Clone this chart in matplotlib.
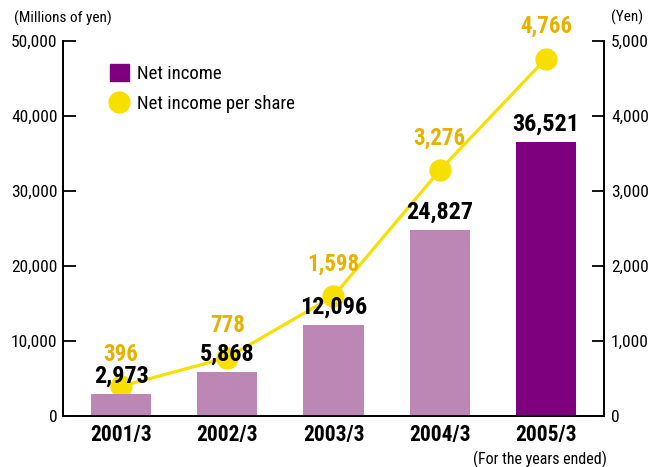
import matplotlib
matplotlib.use("Agg")
import matplotlib.pyplot as plt
from matplotlib.patches import Patch
from matplotlib.lines import Line2D

years = ["2001/3", "2002/3", "2003/3", "2004/3", "2005/3"]
net_income = [2973, 5868, 12096, 24827, 36521]
per_share = [396, 778, 1598, 3276, 4766]
left_ticks = [0, 10000, 20000, 30000, 40000, 50000]
right_ticks = [0, 1000, 2000, 3000, 4000, 5000]

plt.rcParams['font.family'] = ['Roboto Condensed', 'DejaVu Sans']

BAR_LIGHT = "#BC87B5"
BAR_DARK = "#7F007F"
YELLOW = "#F7E000"
GOLD = "#E8B000"

fig = plt.figure(figsize=(6.48, 4.67), dpi=100)
ax = fig.add_axes([63 / 648, 1 - 416 / 467, 541 / 648, 375 / 467])
ax2 = ax.twinx()

x = list(range(len(years)))
colors = [BAR_LIGHT] * 4 + [BAR_DARK]
ax.bar(x, net_income, width=0.565, color=colors, zorder=2)
for xi, v in zip(x, net_income):
    ax.annotate(f"{v:,}", (xi, v), xytext=(0, 8), textcoords="offset points",
                ha="center", va="baseline", fontsize=17.5, fontweight="bold",
                color="black", zorder=5)

ax2.plot(x, per_share, color=YELLOW, lw=2.3, marker="o", markersize=15,
         markerfacecolor=YELLOW, markeredgecolor=YELLOW, zorder=3)
for xi, v in zip(x, per_share):
    ax2.annotate(f"{v:,}", (xi, v), xytext=(0, 18.5), textcoords="offset points",
                 ha="center", va="baseline", fontsize=16.5, fontweight="bold", color=GOLD)

ax.set_zorder(ax2.get_zorder() + 1)
ax.patch.set_visible(False)

ax.set_xlim(-0.546, 4.546)
ax.set_ylim(0, 50000)
ax2.set_ylim(0, 5000)
ax.set_yticks(left_ticks)
ax.set_yticklabels([f"{t:,}" for t in left_ticks], fontsize=12.5)
ax2.set_yticks(right_ticks)
ax2.set_yticklabels([f"{t:,}" for t in right_ticks], fontsize=12.5)
ax.tick_params(axis="y", direction="in", length=9, width=1.3, pad=4)
ax2.tick_params(axis="y", direction="in", length=9, width=1.3, pad=5)
ax.set_xticks(x)
ax.set_xticklabels(years, fontsize=15.5, fontweight="bold")
ax.tick_params(axis="x", length=0, pad=6)

for a in (ax, ax2):
    a.spines["top"].set_visible(False)
    for s in ("left", "right", "bottom"):
        a.spines[s].set_linewidth(1.3)

fig.text(14 / 648, 1 - 18 / 467, "(Millions of yen)", fontsize=11, ha="left", va="center")
fig.text(611 / 648, 1 - 17 / 467, "(Yen)", fontsize=11, ha="left", va="center")
fig.text(607 / 648, 1 - 459 / 467, "(For the years ended)", fontsize=11.5, ha="right", va="center")

handles = [Patch(facecolor=BAR_DARK, edgecolor=BAR_DARK),
           Line2D([], [], marker="o", linestyle="none", markersize=15,
                  markerfacecolor=YELLOW, markeredgecolor=YELLOW)]
ax.legend(handles, ["Net income", "Net income per share"], loc="upper left",
          bbox_to_anchor=((110 - 63) / 541, (416 - 64) / 375), frameon=False,
          fontsize=13.5, borderaxespad=0, borderpad=0,
          handlelength=1.0, handleheight=1.0, handletextpad=0.43, labelspacing=0.62)

fig.savefig("out.png", dpi=100)
